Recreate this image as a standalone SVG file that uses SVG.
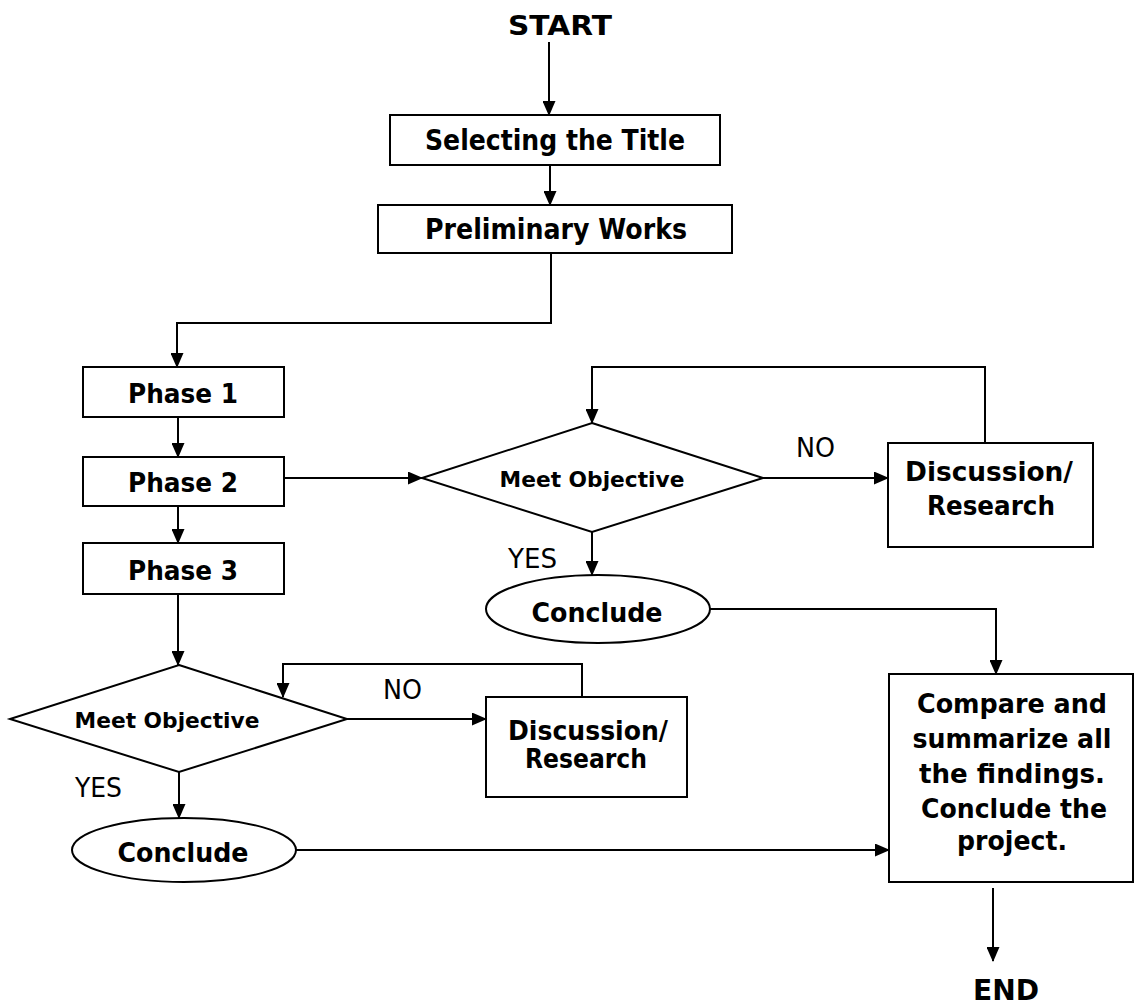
<svg xmlns="http://www.w3.org/2000/svg" width="1135" height="1007" viewBox="0 0 1135 1007">
<defs>
<style>
.b{fill:#fff;stroke:#000;stroke-width:2}
.t{font-family:"DejaVu Sans","Liberation Sans",sans-serif;font-weight:bold;fill:#000;text-anchor:middle}
.r{font-family:"DejaVu Sans","Liberation Sans",sans-serif;fill:#000}
.c{fill:none;stroke:#000;stroke-width:2}
</style>
<marker id="a" markerUnits="userSpaceOnUse" markerWidth="15" markerHeight="13" refX="14" refY="6.5" orient="auto"><path d="M0,0 L15,6.5 L0,13 z" fill="#000"/></marker>
</defs>
<rect width="1135" height="1007" fill="#fff"/>
<g id="connectors">
<path class="c" d="M549,42 V115" marker-end="url(#a)"/>
<path class="c" d="M550,165 V205" marker-end="url(#a)"/>
<path class="c" d="M551,253 V323 H177 V367" marker-end="url(#a)"/>
<path class="c" d="M178,417 V457" marker-end="url(#a)"/>
<path class="c" d="M178,506 V543" marker-end="url(#a)"/>
<path class="c" d="M178,594 V665" marker-end="url(#a)"/>
<path class="c" d="M284,478 H422" marker-end="url(#a)"/>
<path class="c" d="M763,478 H888" marker-end="url(#a)"/>
<path class="c" d="M985,443 V367 H592 V423" marker-end="url(#a)"/>
<path class="c" d="M592,532 V575" marker-end="url(#a)"/>
<path class="c" d="M710,609 H996 V674" marker-end="url(#a)"/>
<path class="c" d="M347,719 H486" marker-end="url(#a)"/>
<path class="c" d="M582,697 V664 H283 V697" marker-end="url(#a)"/>
<path class="c" d="M179,772 V818" marker-end="url(#a)"/>
<path class="c" d="M296,850 H889" marker-end="url(#a)"/>
<path class="c" d="M993,888 V961" marker-end="url(#a)"/>
</g>
<g id="start"><text class="t" x="560" y="35" font-size="27" textLength="104" lengthAdjust="spacingAndGlyphs">START</text></g>
<g id="select"><rect class="b" x="390" y="115" width="330" height="50"/><text class="t" x="555" y="150" font-size="28" textLength="260" lengthAdjust="spacingAndGlyphs">Selecting the Title</text></g>
<g id="prelim"><rect class="b" x="378" y="205" width="354" height="48"/><text class="t" x="556" y="239" font-size="28" textLength="262" lengthAdjust="spacingAndGlyphs">Preliminary Works</text></g>
<g id="phase1"><rect class="b" x="83" y="367" width="201" height="50"/><text class="t" x="183" y="403" font-size="26" textLength="110" lengthAdjust="spacingAndGlyphs">Phase 1</text></g>
<g id="phase2"><rect class="b" x="83" y="457" width="201" height="49"/><text class="t" x="183" y="492" font-size="26" textLength="110" lengthAdjust="spacingAndGlyphs">Phase 2</text></g>
<g id="phase3"><rect class="b" x="83" y="543" width="201" height="51"/><text class="t" x="183" y="580" font-size="26" textLength="110" lengthAdjust="spacingAndGlyphs">Phase 3</text></g>
<g id="decisionR"><polygon class="b" points="592,423 763,478 592,532 422,478"/><text class="t" x="592" y="487" font-size="22" textLength="185" lengthAdjust="spacingAndGlyphs">Meet Objective</text></g>
<g id="discussR"><rect class="b" x="888" y="443" width="205" height="104"/><text class="t" x="989" y="481" font-size="26" textLength="168" lengthAdjust="spacingAndGlyphs">Discussion/</text><text class="t" x="991" y="515" font-size="26" textLength="128" lengthAdjust="spacingAndGlyphs">Research</text></g>
<g id="concludeR"><ellipse class="b" cx="598" cy="609" rx="112" ry="34"/><text class="t" x="597" y="622" font-size="27" textLength="131" lengthAdjust="spacingAndGlyphs">Conclude</text></g>
<g id="decisionL"><polygon class="b" points="179,665 347,719 179,772 10,719"/><text class="t" x="167" y="728" font-size="22" textLength="185" lengthAdjust="spacingAndGlyphs">Meet Objective</text></g>
<g id="discussL"><rect class="b" x="486" y="697" width="201" height="100"/><text class="t" x="588" y="740" font-size="26" textLength="160" lengthAdjust="spacingAndGlyphs">Discussion/</text><text class="t" x="586" y="768" font-size="26" textLength="122" lengthAdjust="spacingAndGlyphs">Research</text></g>
<g id="concludeL"><ellipse class="b" cx="184" cy="850" rx="112" ry="32"/><text class="t" x="183" y="862" font-size="27" textLength="131" lengthAdjust="spacingAndGlyphs">Conclude</text></g>
<g id="compare"><rect class="b" x="889" y="674" width="244" height="208"/>
<text class="t" x="1012" y="713" font-size="27" textLength="190" lengthAdjust="spacingAndGlyphs">Compare and</text>
<text class="t" x="1012" y="748" font-size="27" textLength="199" lengthAdjust="spacingAndGlyphs">summarize all</text>
<text class="t" x="1012" y="783" font-size="27" textLength="186" lengthAdjust="spacingAndGlyphs">the findings.</text>
<text class="t" x="1014" y="818" font-size="27" textLength="186" lengthAdjust="spacingAndGlyphs">Conclude the</text>
<text class="t" x="1012" y="850" font-size="27" textLength="110" lengthAdjust="spacingAndGlyphs">project.</text>
</g>
<g id="end"><text class="t" x="1006" y="1000" font-size="29" textLength="66" lengthAdjust="spacingAndGlyphs">END</text></g>
<g id="labels">
<text class="r" x="796" y="457" font-size="27" textLength="39" lengthAdjust="spacingAndGlyphs">NO</text>
<text class="r" x="508" y="568" font-size="27" textLength="49" lengthAdjust="spacingAndGlyphs">YES</text>
<text class="r" x="383" y="699" font-size="27" textLength="39" lengthAdjust="spacingAndGlyphs">NO</text>
<text class="r" x="75" y="797" font-size="27" textLength="47" lengthAdjust="spacingAndGlyphs">YES</text>
</g>
</svg>
